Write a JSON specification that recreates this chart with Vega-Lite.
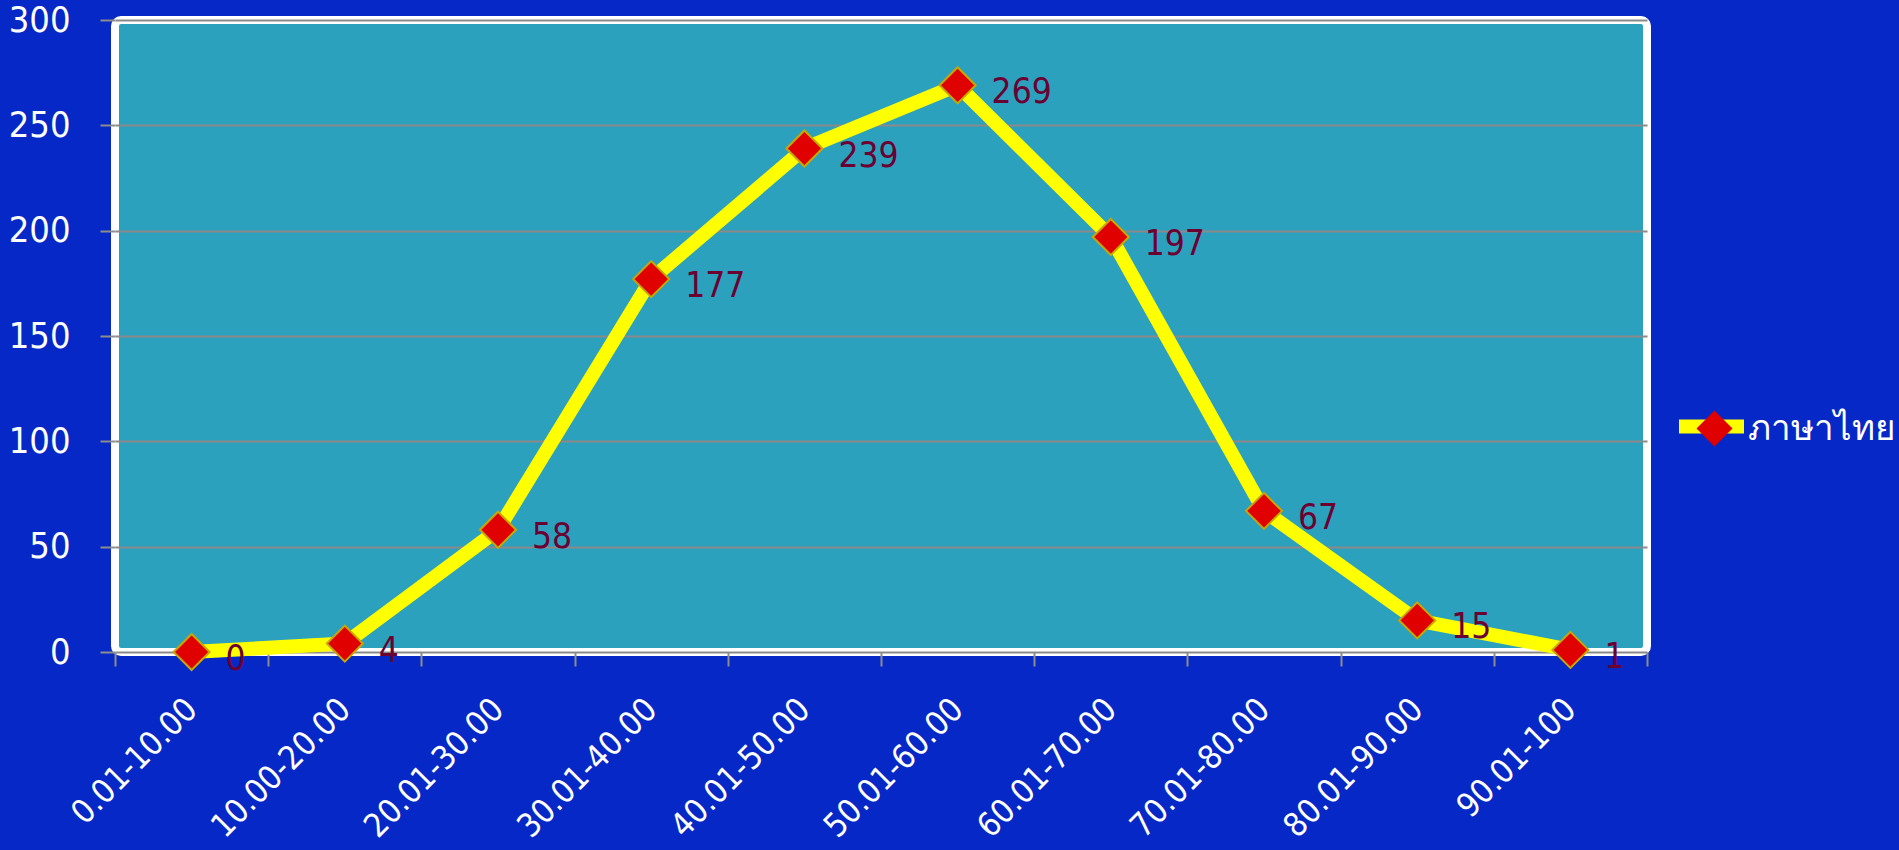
{
  "$schema": "https://vega.github.io/schema/vega-lite/v6.json",
  "autosize": "none",
  "width": 1532,
  "height": 632,
  "padding": {"left": 115, "top": 20, "right": 252, "bottom": 198},
  "background": "#0628C6",
  "config": {
    "font": "DejaVu Sans Condensed",
    "view": {"fill": "#2CA1BD", "stroke": "#FFFFFF", "strokeWidth": 8, "cornerRadius": 6}
  },
  "data": {
    "values": [
      {"range": "0.01-10.00", "value": 0, "series": "ภาษาไทย", "s": "ภาษาไทย "},
      {"range": "10.00-20.00", "value": 4, "series": "ภาษาไทย", "s": "ภาษาไทย "},
      {"range": "20.01-30.00", "value": 58, "series": "ภาษาไทย", "s": "ภาษาไทย "},
      {"range": "30.01-40.00", "value": 177, "series": "ภาษาไทย", "s": "ภาษาไทย "},
      {"range": "40.01-50.00", "value": 239, "series": "ภาษาไทย", "s": "ภาษาไทย "},
      {"range": "50.01-60.00", "value": 269, "series": "ภาษาไทย", "s": "ภาษาไทย "},
      {"range": "60.01-70.00", "value": 197, "series": "ภาษาไทย", "s": "ภาษาไทย "},
      {"range": "70.01-80.00", "value": 67, "series": "ภาษาไทย", "s": "ภาษาไทย "},
      {"range": "80.01-90.00", "value": 15, "series": "ภาษาไทย", "s": "ภาษาไทย "},
      {"range": "90.01-100", "value": 1, "series": "ภาษาไทย", "s": "ภาษาไทย "}
    ]
  },
  "encoding": {
    "x": {
      "field": "range", "type": "ordinal", "sort": null,
      "scale": {"type": "band", "paddingInner": 0, "paddingOuter": 0},
      "axis": {
        "title": null, "domain": false, "grid": false,
        "labelAngle": -45, "labelAlign": "right", "labelBaseline": "middle",
        "labelColor": "#FFFFFF", "labelFontSize": 33, "labelPadding": 38, "labelLimit": 0,
        "tickBand": "extent", "tickColor": "#8C8C8C", "tickSize": 14, "tickWidth": 2
      }
    },
    "y": {
      "field": "value", "type": "quantitative",
      "scale": {"domain": [0, 300], "nice": false},
      "axis": {
        "title": null, "domain": false, "values": [0, 50, 100, 150, 200, 250, 300],
        "grid": true, "gridColor": "#8A8A8A", "gridWidth": 2, "gridOpacity": 1,
        "labelColor": "#FFFFFF", "labelFontSize": 36, "labelPadding": 30,
        "tickColor": "#8C8C8C", "tickSize": 15, "tickWidth": 2
      }
    }
  },
  "layer": [
    {
      "mark": {"type": "line", "strokeWidth": 14, "strokeJoin": "round", "strokeCap": "round"},
      "encoding": {
        "color": {
          "field": "series", "type": "nominal",
          "scale": {"range": ["#FFFF00"]},
          "legend": {
            "title": null, "orient": "none", "legendX": 1557, "legendY": 367, "padding": 0,
            "symbolType": "stroke", "symbolSize": 4225, "symbolStrokeWidth": 14,
            "symbolStrokeColor": "#FFFF00",
            "labelExpr": "''", "labelFontSize": 35
          }
        }
      }
    },
    {
      "mark": {"type": "point", "filled": true, "size": 1300, "fill": "#E00000", "stroke": "#C8A800", "strokeWidth": 2, "opacity": 1},
      "encoding": {
        "shape": {
          "field": "s", "type": "nominal",
          "scale": {"range": ["diamond"]},
          "legend": {
            "title": null, "orient": "none", "legendX": 1580, "legendY": 389, "padding": 0,
            "symbolSize": 1300, "symbolFillColor": "#E00000", "symbolStrokeColor": "#C8A800",
            "symbolStrokeWidth": 2, "symbolOpacity": 1,
            "labelColor": "#FFFFFF", "labelFontSize": 35, "labelOffset": 14,
            "labelFont": "Noto Sans"
          }
        }
      }
    },
    {
      "mark": {"type": "text", "align": "left", "baseline": "middle", "dx": 34, "dy": 7, "fontSize": 35, "color": "#6B0033"},
      "encoding": {"text": {"field": "value", "type": "quantitative"}}
    }
  ]
}
